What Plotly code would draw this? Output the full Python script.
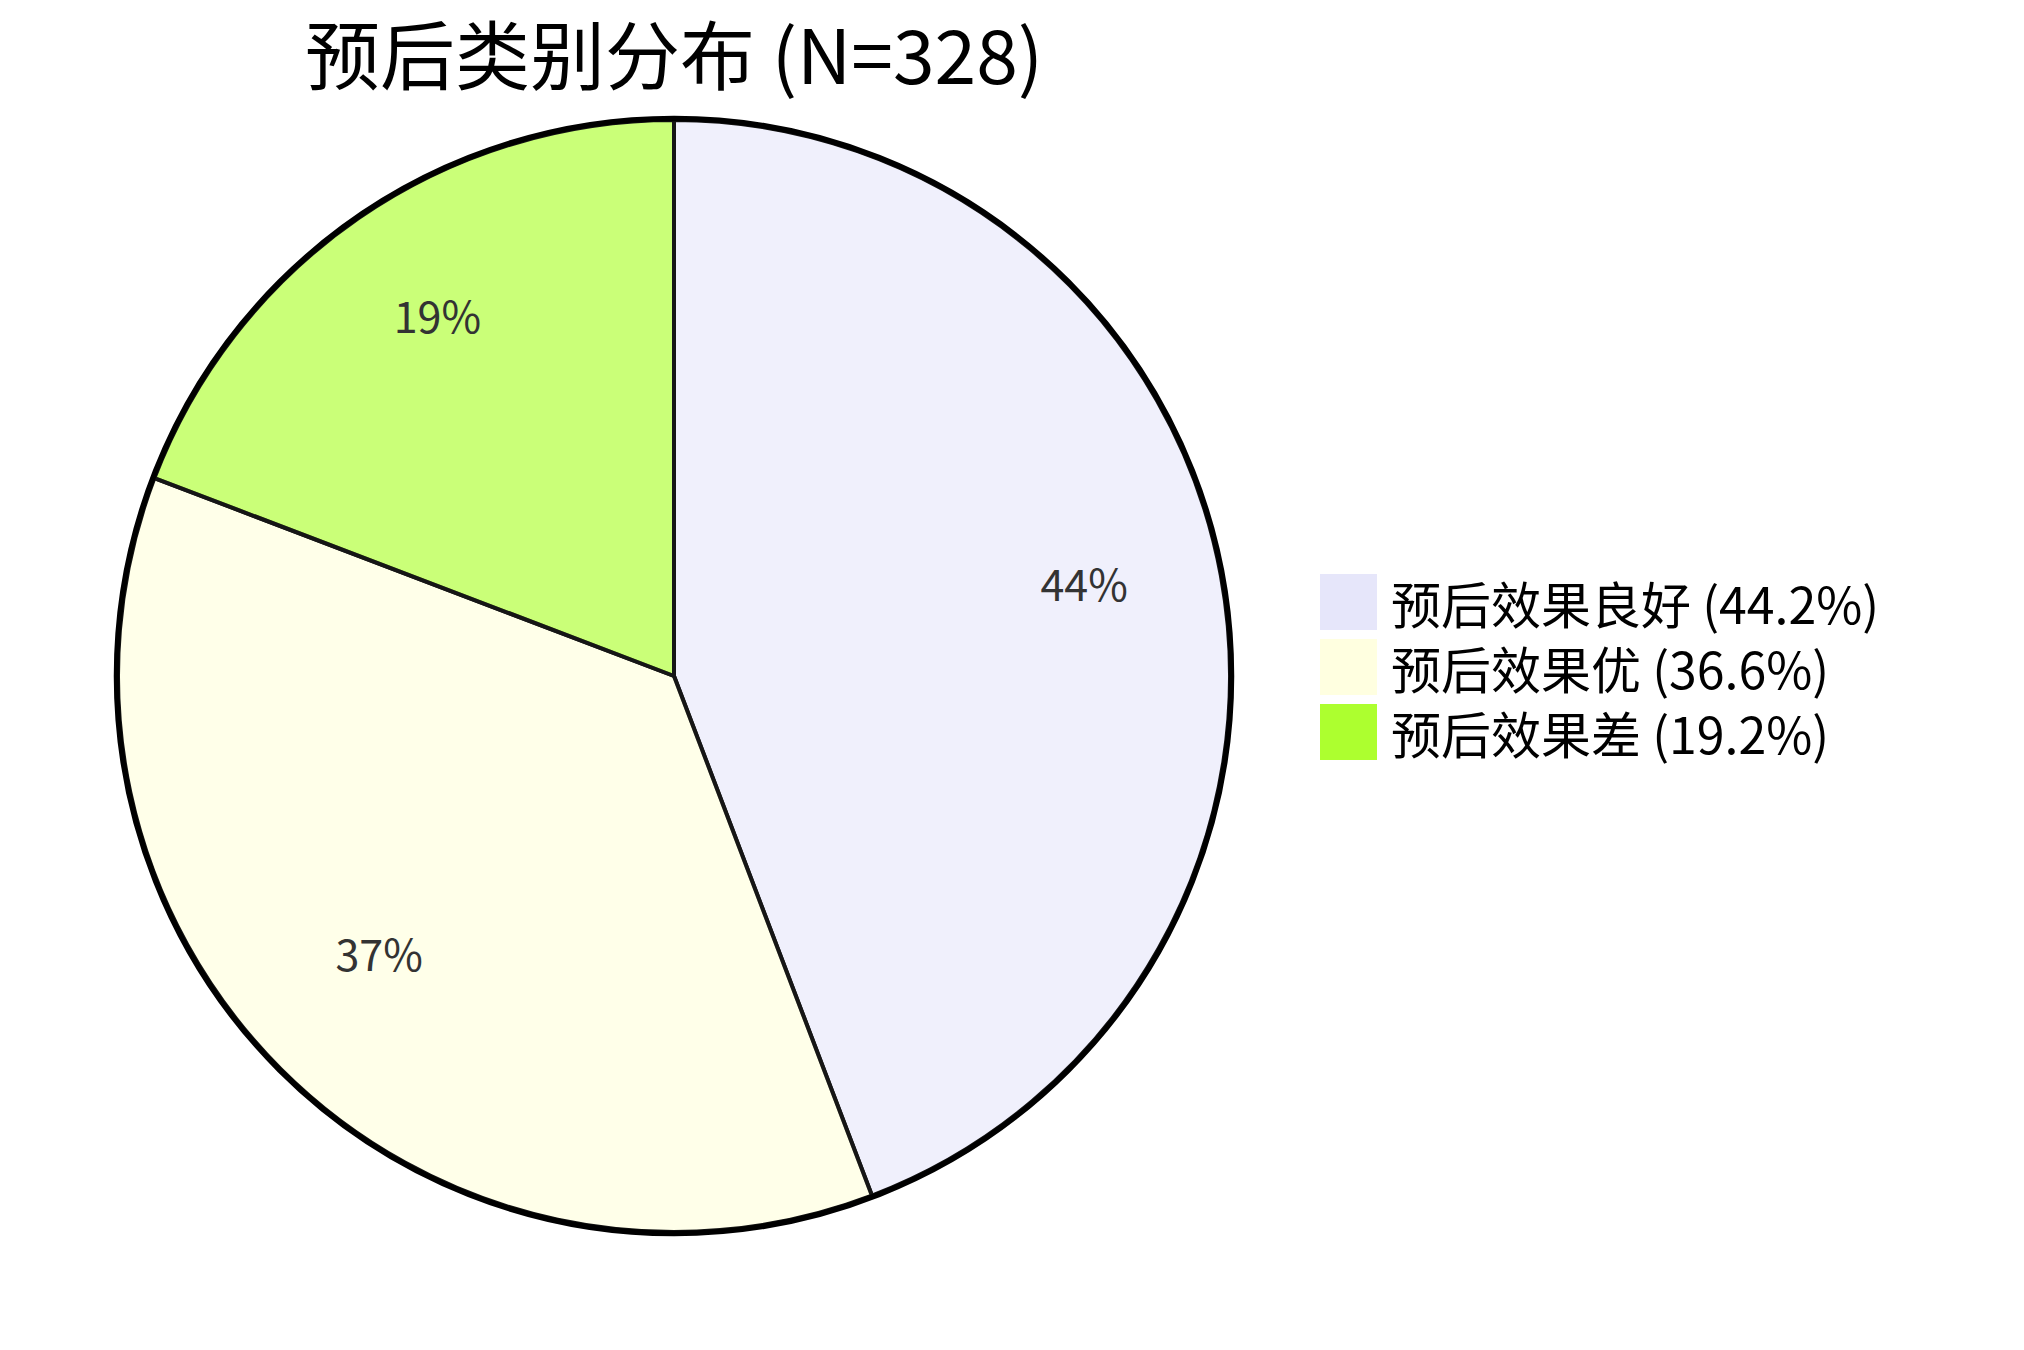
import plotly.graph_objects as go

# ---- data ----
categories = ["预后效果良好", "预后效果优", "预后效果差"]
counts = [145, 120, 63]
pct_labels = ["44.2%", "36.6%", "19.2%"]
legend_colors = ["#E6E6FA", "#FFFFE0", "#ADFF2F"]
slice_colors = ["rgba(230,230,250,0.62)", "rgba(255,255,224,0.7)", "rgba(173,255,47,0.65)"]
title_text = "预后类别分布 (N=328)"

FONT = "Noto Sans CJK SC"
W, H = 2024, 1350

# pie geometry in pixels
cx, cy, r = 666, 668, 556
dom_x = [(cx - r) / W, (cx + r) / W]
dom_y = [1 - (cy + r) / H, 1 - (cy - r) / H]
lab_dy = 19 / H  # labels sit slightly above the slice midline
dom_y_lab = [dom_y[0] + lab_dy, dom_y[1] + lab_dy]

fig = go.Figure()
# filled slices
fig.add_trace(go.Pie(
    labels=categories,
    values=counts,
    sort=False,
    direction="clockwise",
    rotation=0,
    marker=dict(colors=slice_colors, line=dict(color="#161616", width=4)),
    textinfo="none",
    domain=dict(x=dom_x, y=dom_y),
    showlegend=False,
    hoverinfo="label+value+percent",
))
# percentage labels placed at ~0.75 r (ring of a transparent holed pie)
fig.add_trace(go.Pie(
    labels=categories,
    values=counts,
    sort=False,
    direction="clockwise",
    rotation=0,
    hole=0.5,
    marker=dict(colors=["rgba(0,0,0,0)"] * len(counts), line=dict(width=0)),
    texttemplate="%{percent:.0%}",
    textposition="inside",
    insidetextorientation="horizontal",
    textfont=dict(family=FONT, size=43, color="#333333"),
    domain=dict(x=dom_x, y=dom_y_lab),
    showlegend=False,
    hoverinfo="skip",
))

shapes = []
# outer rim
shapes.append(dict(type="circle", xref="paper", yref="paper",
                   x0=(cx - r - 1.5) / W, x1=(cx + r + 1.5) / W,
                   y0=1 - (cy + r + 1.5) / H, y1=1 - (cy - r - 1.5) / H,
                   line=dict(color="black", width=5.5), fillcolor="rgba(0,0,0,0)"))

# manual legend: swatches + one multi-line text block
sw_x0, sw_x1 = 1312, 1369
row_top, pitch, sw_h = 566, 65, 56
for i, col in enumerate(legend_colors):
    top = row_top + i * pitch
    shapes.append(dict(type="rect", xref="paper", yref="paper",
                       x0=sw_x0 / W, x1=sw_x1 / W,
                       y0=1 - (top + sw_h) / H, y1=1 - top / H,
                       fillcolor=col, line=dict(width=0)))
legend_text = "<br>".join(f"{c} ({p})" for c, p in zip(categories, pct_labels))
mid_y = row_top + (len(categories) - 1) * pitch / 2 + sw_h / 2
annotations = [dict(xref="paper", yref="paper",
                    x=1381 / W, y=1 - mid_y / H,
                    xanchor="left", yanchor="middle", align="left",
                    text=legend_text, showarrow=False,
                    font=dict(family=FONT, size=50, color="black"))]

fig.update_layout(
    width=W, height=H,
    margin=dict(l=0, r=0, t=0, b=0),
    paper_bgcolor="white",
    plot_bgcolor="white",
    font=dict(family=FONT),
    title=dict(text=title_text, x=cx / W, xanchor="center",
               y=1 - 50 / H, yanchor="middle",
               font=dict(family=FONT, size=75, color="black")),
    shapes=shapes,
    annotations=annotations,
)

fig.write_html("out.html")
